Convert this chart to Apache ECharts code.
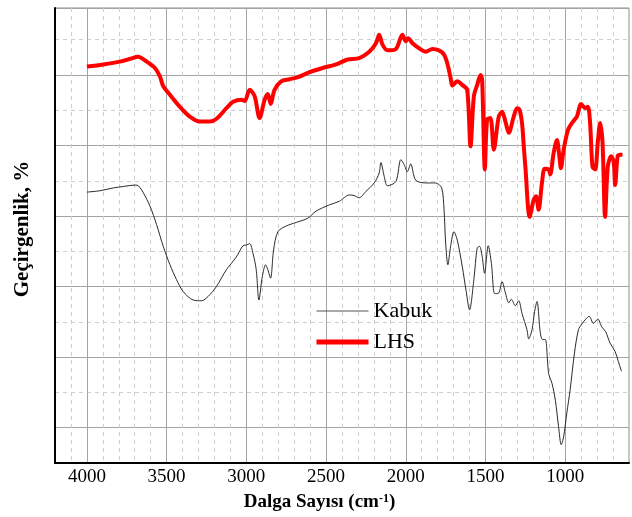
<!DOCTYPE html>
<html>
<head>
<meta charset="utf-8">
<script src="https://cdn.jsdelivr.net/npm/echarts@6/dist/echarts.min.js"></script>
<style>
  html, body { margin: 0; padding: 0; background: #fff; }
  #chart { width: 632px; height: 517px; }
</style>
</head>
<body>
<div id="chart"></div>
<script>
// FTIR spectra: wavenumber (cm-1) vs transmittance (arbitrary offset units)
const kabukWavenumbers = [4000,3917,3833,3771,3698,3677,3646,3604,3563,3521,3479,3438,3396,3333,3281,3240,3188,3125,3063,3021,3000,2979,2958,2938,2921,2900,2879,2865,2848,2829,2802,2750,2687,2615,2563,2479,2417,2354,2323,2292,2250,2198,2167,2156,2135,2115,2062,2031,2010,1990,1969,1938,1875,1813,1775,1760,1750,1736,1719,1698,1677,1646,1621,1600,1573,1552,1537,1521,1506,1483,1463,1442,1417,1396,1375,1354,1338,1313,1292,1271,1240,1229,1208,1192,1177,1156,1142,1125,1104,1083,1062,1042,1025,1010,990,969,942,917,896,875,850,823,796,771,746,719,687,667,650,646];
const kabukValues = [38.4,38.6,39.0,39.2,39.4,39.3,38.3,36.4,33.8,30.7,28.1,26.0,24.3,23.1,23.0,23.6,25.0,27.4,29.2,30.8,30.9,31.1,29.7,27.4,23.1,26.4,28.1,27.4,26.2,30.2,32.8,33.6,34.1,34.7,35.7,36.6,37.1,38.0,37.9,37.6,38.5,39.7,41.1,42.6,40.6,39.3,39.9,43.0,42.3,41.3,42.4,40.1,39.7,39.7,39.0,35.9,31.2,28.1,30.7,32.8,31.6,27.9,24.3,21.7,26.0,30.5,30.7,29.3,26.9,30.8,28.3,24.0,24.1,25.7,24.1,22.7,23.2,22.3,23.0,21.2,18.9,17.6,18.9,21.5,22.9,18.4,17.5,17.5,12.7,11.3,8.9,5.2,2.6,3.7,7.1,10.4,15.6,18.9,19.7,20.3,20.8,19.8,20.4,19.3,18.6,17.0,15.8,14.4,13.2,13.0];

const lhsWavenumbers = [4000,3897,3792,3729,3679,3625,3573,3542,3521,3479,3417,3354,3292,3229,3187,3125,3083,3031,3010,2979,2948,2917,2885,2865,2848,2823,2781,2729,2677,2604,2521,2437,2365,2292,2229,2187,2167,2146,2115,2062,2021,2000,1985,1958,1917,1875,1833,1792,1760,1740,1719,1708,1677,1646,1615,1594,1573,1552,1531,1521,1504,1490,1469,1448,1417,1396,1375,1354,1323,1302,1287,1271,1260,1250,1223,1198,1183,1167,1146,1129,1104,1094,1073,1052,1037,1027,1010,983,958,927,900,875,858,844,829,812,796,781,766,750,733,712,696,687,671,656,641];
const lhsValues = [56.2,56.5,56.9,57.3,57.6,56.9,56.0,54.8,53.4,52.2,50.5,49.1,48.4,48.4,48.8,50.3,51.2,51.5,51.3,52.9,52.0,48.9,51.5,52.3,50.9,52.9,54.1,54.4,54.7,55.4,56.0,56.5,57.2,57.4,58.3,59.5,60.7,59.3,58.5,58.7,60.7,59.8,60.2,59.5,58.8,58.3,58.7,58.5,57.9,56.7,54.6,53.5,54.1,53.6,52.9,44.9,52.0,53.6,55.0,54.3,41.6,48.7,48.9,44.4,49.1,49.8,48.4,46.8,49.1,50.3,50.1,48.2,44.9,42.0,34.9,37.3,37.8,35.9,39.7,41.7,41.6,40.9,43.9,45.8,43.5,41.8,44.4,47.2,48.2,49.1,50.9,50.3,50.5,48.2,42.0,41.6,45.4,48.2,45.4,34.9,42.0,43.5,42.7,39.4,43.5,43.7,43.7];

const xTickLabels = [4000, 3500, 3000, 2500, 2000, 1500, 1000];
const seriesNames = ['Kabuk', 'LHS'];

const zip = (xs, ys) => xs.map((x, i) => [x, ys[i]]);

const MAJOR = '#a3a3a3';
const MINOR = '#cdcdcd';
const NONE = 'rgba(0,0,0,0)';
const SERIF = "'Liberation Serif', 'Times New Roman', serif";

const X_MIN = 600, X_MAX = 4200, Y_MIN = 0, Y_MAX = 64.5;

const chart = echarts.init(document.getElementById('chart'), null, { renderer: 'canvas' });

chart.setOption({
  animation: false,
  backgroundColor: '#fff',
  grid: {
    left: 55, right: 1, top: 8, bottom: 54,
    show: true, borderColor: '#8c8c8c', borderWidth: 1
  },
  legend: {
    orient: 'vertical',
    left: 314, top: 300, padding: 0,
    itemWidth: 52, itemHeight: 22, itemGap: 9,
    data: [
      { name: seriesNames[0], lineStyle: { width: 1, color: '#555' } },
      { name: seriesNames[1], lineStyle: { width: 5, color: '#ff0000' } }
    ],
    itemStyle: { opacity: 0 },
    textStyle: { fontFamily: SERIF, fontSize: 22, color: '#000', lineHeight: 22 }
  },
  xAxis: [
    {
      type: 'value', inverse: true,
      min: X_MIN, max: X_MAX, interval: 100,
      axisLine: { show: true, onZero: false, lineStyle: { color: '#000', width: 2 } },
      axisTick: { show: false },
      axisLabel: {
        margin: 5,
        fontFamily: SERIF, fontSize: 19, color: '#000',
        formatter: v => (xTickLabels.indexOf(v) >= 0 ? String(v) : '')
      },
      splitLine: { show: true, lineStyle: { type: [4, 4], width: 1, color: [MINOR, MINOR, MINOR, MINOR, NONE] } },
      name: 'Dalga Sayısı (cm{sup|-1})',
      nameLocation: 'middle', nameGap: 30,
      nameTextStyle: {
        fontFamily: SERIF, fontSize: 19, fontWeight: 'bold', color: '#000',
        padding: [0, 45, 0, 0],
        rich: { sup: { fontFamily: SERIF, fontSize: 12, fontWeight: 'bold', color: '#000', verticalAlign: 'top' } }
      }
    },
    {
      type: 'value', inverse: true, position: 'bottom',
      min: X_MIN, max: X_MAX, interval: 100,
      axisLine: { show: false }, axisTick: { show: false }, axisLabel: { show: false },
      splitLine: { show: true, lineStyle: { type: 'solid', width: 1, color: [NONE, NONE, NONE, NONE, MAJOR] } }
    }
  ],
  yAxis: [
    {
      type: 'value', min: Y_MIN, max: Y_MAX, interval: 5,
      axisLine: { show: true, onZero: false, lineStyle: { color: '#000', width: 2 } },
      axisTick: { show: false }, axisLabel: { show: false },
      splitLine: { show: true, lineStyle: { type: [4, 4], width: 1, color: [MINOR, NONE] } },
      name: 'Geçirgenlik, %',
      nameLocation: 'middle', nameGap: 22,
      nameTextStyle: {
        fontFamily: SERIF, fontSize: 21, fontWeight: 'bold', color: '#000',
        padding: [0, 0, 0, 13]
      }
    },
    {
      type: 'value', position: 'left', min: Y_MIN, max: Y_MAX, interval: 5,
      axisLine: { show: false }, axisTick: { show: false }, axisLabel: { show: false },
      splitLine: { show: true, lineStyle: { type: 'solid', width: 1, color: [NONE, MAJOR] } }
    }
  ],
  series: [
    {
      name: seriesNames[0], type: 'line', xAxisIndex: 0, yAxisIndex: 0,
      data: zip(kabukWavenumbers, kabukValues),
      symbol: 'none', smooth: 0.3,
      lineStyle: { color: '#2a2a2a', width: 1 },
      itemStyle: { color: '#2a2a2a' }
    },
    {
      name: seriesNames[1], type: 'line', xAxisIndex: 0, yAxisIndex: 0,
      data: zip(lhsWavenumbers, lhsValues),
      symbol: 'none', smooth: 0.3,
      lineStyle: { color: '#ff0000', width: 4 },
      itemStyle: { color: '#ff0000' }
    }
  ]
});
</script>
</body>
</html>
